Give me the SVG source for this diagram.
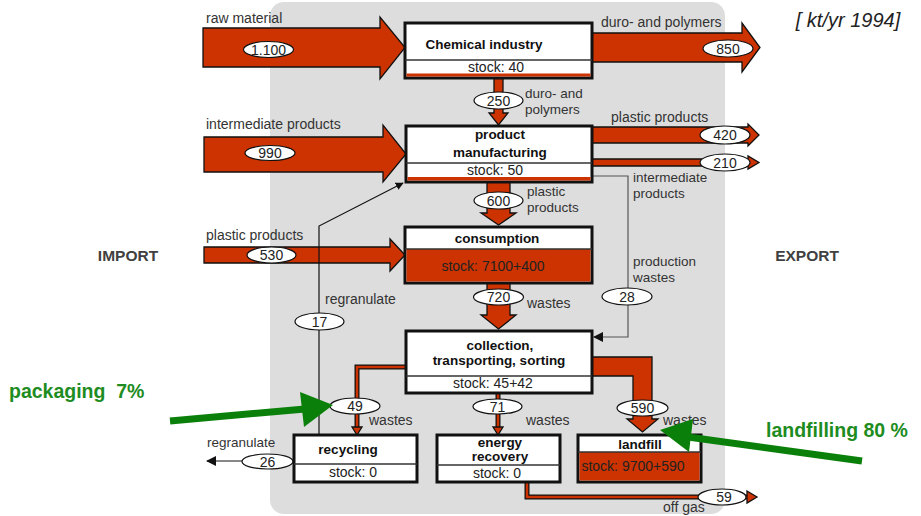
<svg xmlns="http://www.w3.org/2000/svg" width="921" height="516" viewBox="0 0 921 516">
<style>
text{font-family:"Liberation Sans",Arial,sans-serif;fill:#333}
.lb{font-size:14px}
.l2{font-size:13.5px}
.sm{font-size:13.5px}
.t{font-size:13.5px;font-weight:bold;fill:#111;text-anchor:middle}
.st{font-size:14px;fill:#222;text-anchor:middle}
.n{font-size:14px;fill:#222;text-anchor:middle}
.box{fill:#fff;stroke:#111;stroke-width:3}
.sep{stroke:#333;stroke-width:1.5}
.red{fill:#CC3300}
.fl{fill:#CC3300;stroke:#111;stroke-width:1.3;stroke-linejoin:miter}
.el{fill:#fff;stroke:#111;stroke-width:1.2}
.ln{fill:none;stroke:#111;stroke-width:1.2}
.gl{fill:none;stroke:#555;stroke-width:1.2}
.side{font-size:15.5px;font-weight:bold;fill:#404040;text-anchor:middle}
.gt{font-size:19.5px;font-weight:bold;fill:#1E8C1E}
</style>
<defs>
<marker id="ah" viewBox="0 0 10 10" refX="9" refY="5" markerWidth="8" markerHeight="8" markerUnits="userSpaceOnUse" orient="auto">
<path d="M0,0 L10,5 L0,10 z" fill="#111"/>
</marker>
<marker id="ahb" viewBox="0 0 10 10" refX="9" refY="5" markerWidth="12" markerHeight="10" markerUnits="userSpaceOnUse" orient="auto">
<path d="M0,0 L10,5 L0,10 z" fill="#111"/>
</marker>
</defs>
<rect x="270" y="2" width="455" height="512" rx="14" fill="#DDDDDD"/>

<g id="connectors">
<!-- imports / exports -->
<polygon class="fl" points="203,28 380,28 380,17 405,47.5 380,79 380,67 203,67"/>
<polygon class="fl" points="592,33 742,33 742,23 760,47.5 742,72 742,62 592,62"/>
<polygon class="fl" points="204,137 383,137 383,125 406,154 383,182 383,172 204,172"/>
<polygon class="fl" points="204,247 390,247 390,239 405,255 390,271 390,263 204,263"/>
<polygon class="fl" points="592,127 748,127 748,124 759,135 748,146 748,143 592,143"/>
<polygon class="fl" points="592,159 748,159 748,156 759,162.5 748,169 748,166 592,166"/>
<!-- vertical flows -->
<polygon class="fl" points="494,78 503,78 503,113 508,113 498.5,125 489,113 494,113"/>
<polygon class="fl" points="487,182 510,182 510,213 516,213 498.5,225 481,213 487,213"/>
<polygon class="fl" points="487,283 510,283 510,315 516,315 498.5,329 481,315 487,315"/>
<polygon class="fl" points="592,357 652,357 652,419 658,419 642.5,432 627,419 633,419 633,376 592,376"/>
<!-- thin red flows -->
<path d="M406,367 H357 V428" fill="none" stroke="#111" stroke-width="5"/>
<path d="M406,367 H357 V428" fill="none" stroke="#CC3300" stroke-width="2.5"/>
<polygon class="fl" points="352,427 362,427 357,435"/>
<path d="M498,393 V428" fill="none" stroke="#111" stroke-width="5"/>
<path d="M498,393 V428" fill="none" stroke="#CC3300" stroke-width="2.5"/>
<polygon class="fl" points="493,427 503,427 498,435"/>
<path d="M527,482 V497 H748" fill="none" stroke="#111" stroke-width="5"/>
<path d="M527,482 V497 H749" fill="none" stroke="#CC3300" stroke-width="2.5"/>
<polygon class="fl" points="747,491 757,497 747,503"/>
<!-- thin black lines -->
<path class="ln" d="M319,435 V226 L403,183" marker-end="url(#ah)"/>
<path class="ln" d="M294,461 H207" marker-end="url(#ahb)"/>
<path class="gl" d="M592,176 H628 V337 H594" marker-end="url(#ahb)"/>
<!-- value ellipses -->
<ellipse class="el" cx="268.5" cy="49.5" rx="25" ry="8"/><text class="n" x="268.5" y="54.5">1.100</text>
<ellipse class="el" cx="728" cy="48.5" rx="25" ry="8.5"/><text class="n" x="728" y="53.5">850</text>
<ellipse class="el" cx="498.5" cy="100.5" rx="24.5" ry="8.5"/><text class="n" x="498.5" y="105.5">250</text>
<ellipse class="el" cx="270" cy="153" rx="25" ry="7.5"/><text class="n" x="270" y="158">990</text>
<ellipse class="el" cx="725" cy="135" rx="25" ry="9"/><text class="n" x="725" y="140">420</text>
<ellipse class="el" cx="725" cy="162.5" rx="25" ry="8.5"/><text class="n" x="725" y="167.5">210</text>
<ellipse class="el" cx="498.5" cy="200.5" rx="24.5" ry="8.5"/><text class="n" x="498.5" y="205.5">600</text>
<ellipse class="el" cx="271.5" cy="255" rx="24.5" ry="8"/><text class="n" x="271.5" y="260">530</text>
<ellipse class="el" cx="498.5" cy="297" rx="25" ry="8"/><text class="n" x="498.5" y="302">720</text>
<ellipse class="el" cx="627" cy="296.5" rx="25" ry="8.5"/><text class="n" x="627" y="301.5">28</text>
<ellipse class="el" cx="319.5" cy="321.5" rx="24.5" ry="8.5"/><text class="n" x="319.5" y="326.5">17</text>
<ellipse class="el" cx="355" cy="406" rx="25" ry="8"/><text class="n" x="355" y="411">49</text>
<ellipse class="el" cx="497.5" cy="406.5" rx="24.5" ry="7.5"/><text class="n" x="497.5" y="411.5">71</text>
<ellipse class="el" cx="642.5" cy="408" rx="25.5" ry="8"/><text class="n" x="642.5" y="413">590</text>
<ellipse class="el" cx="267.5" cy="461.5" rx="25.5" ry="7.5"/><text class="n" x="267.5" y="466.5">26</text>
<ellipse class="el" cx="722" cy="497" rx="24" ry="8"/><text class="n" x="724" y="502">59</text>
<!-- flow labels -->
<text class="lb" x="206" y="23">raw material</text>
<text class="lb" x="601" y="27">duro- and polymers</text>
<text class="l2" x="525" y="98">duro- and</text>
<text class="l2" x="525" y="114">polymers</text>
<text class="lb" x="206" y="129">intermediate products</text>
<text class="lb" x="611" y="122">plastic products</text>
<text class="l2" x="633" y="182">intermediate</text>
<text class="l2" x="633" y="198">products</text>
<text class="l2" x="527" y="196">plastic</text>
<text class="l2" x="527" y="212">products</text>
<text class="lb" x="206" y="240">plastic products</text>
<text class="l2" x="633" y="266">production</text>
<text class="l2" x="633" y="282">wastes</text>
<text class="lb" x="325" y="304">regranulate</text>
<text class="lb" x="527" y="308">wastes</text>
<text class="lb" x="369" y="425">wastes</text>
<text class="lb" x="526" y="425">wastes</text>
<text class="lb" x="663" y="425">wastes</text>
<text class="sm" x="207" y="447">regranulate</text>
<text class="lb" x="663" y="512">off gas</text>
</g>

<g id="chemical-industry">
<rect class="box" x="405" y="23" width="187" height="55"/>
<rect class="red" x="406.5" y="73.5" width="184" height="3"/>
<line class="sep" x1="405" y1="60" x2="592" y2="60"/>
<text class="t" x="484" y="49">Chemical industry</text>
<text class="st" x="496" y="72">stock: 40</text>
</g>

<g id="product-manufacturing">
<rect class="box" x="406" y="126" width="186" height="56"/>
<rect class="red" x="407.5" y="177" width="183" height="3.5"/>
<line class="sep" x1="406" y1="163" x2="592" y2="163"/>
<text class="t" x="500" y="139">product</text>
<text class="t" x="500" y="157">manufacturing</text>
<text class="st" x="495" y="175">stock: 50</text>
</g>

<g id="consumption">
<rect class="box" x="405" y="227" width="187" height="56"/>
<rect class="red" x="406.5" y="249" width="184" height="32.5"/>
<line class="sep" x1="405" y1="249" x2="592" y2="249"/>
<text class="t" x="497" y="243">consumption</text>
<text class="st" x="493" y="271">stock: 7100+400</text>
</g>

<g id="collection">
<rect class="box" x="406" y="331" width="186" height="62"/>
<line class="sep" x1="406" y1="376" x2="592" y2="376"/>
<text class="t" x="500" y="350">collection,</text>
<text class="t" x="499" y="365">transporting, sorting</text>
<text class="st" x="493" y="388">stock: 45+42</text>
</g>

<g id="recycling">
<rect class="box" x="294" y="435" width="123" height="47"/>
<line class="sep" x1="294" y1="464" x2="417" y2="464"/>
<text class="t" x="348" y="454">recycling</text>
<text class="st" x="353" y="477">stock: 0</text>
</g>

<g id="energy-recovery">
<rect class="box" x="437" y="435" width="123" height="47"/>
<line class="sep" x1="437" y1="465" x2="560" y2="465"/>
<text class="t" x="500" y="447">energy</text>
<text class="t" x="500" y="461">recovery</text>
<text class="st" x="497" y="478">stock: 0</text>
</g>

<g id="landfill">
<rect class="box" x="578" y="435" width="123" height="47"/>
<rect class="red" x="579.5" y="452" width="120" height="28.5"/>
<line class="sep" x1="578" y1="452" x2="701" y2="452"/>
<text class="t" x="640" y="449">landfill</text>
<text class="st" x="633" y="471">stock: 9700+590</text>
</g>

<g id="annotations">
<text x="848" y="27" style="font-size:20px;font-style:italic;fill:#222;text-anchor:middle">[ kt/yr 1994]</text>
<text class="side" x="128" y="261">IMPORT</text>
<text class="side" x="807" y="261">EXPORT</text>
<text class="gt" x="9" y="398" xml:space="preserve">packaging  7%</text>
<text class="gt" x="766" y="437">landfilling 80 %</text>
<line x1="170" y1="421" x2="305" y2="409" stroke="#0A800A" stroke-width="7"/>
<polygon points="300,392 333,405 304,427" fill="#0A800A"/>
<line x1="862" y1="461" x2="688" y2="437" stroke="#0A800A" stroke-width="7"/>
<polygon points="693,419 660,430 689,452" fill="#0A800A"/>
</g>
</svg>
